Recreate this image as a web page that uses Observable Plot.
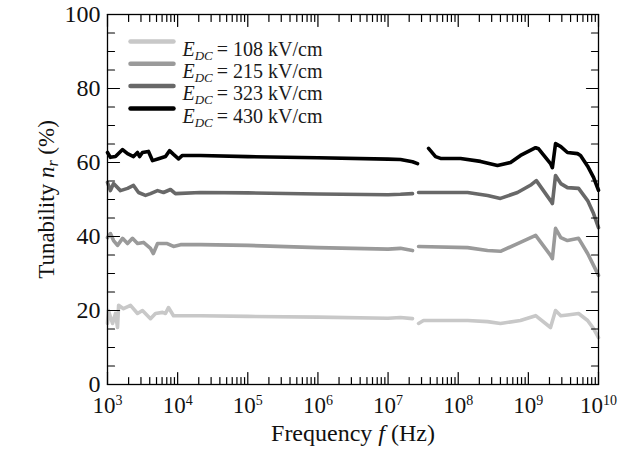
<!DOCTYPE html>
<html><head><meta charset="utf-8">
<script src="https://cdn.jsdelivr.net/npm/d3@7"></script>
<script src="https://cdn.jsdelivr.net/npm/@observablehq/plot@0.6"></script>
<style>
html,body{margin:0;padding:0;background:#fff;}
</style>
</head><body><div id="chart"></div>
<script>
// ---- data ----
const seriesNames = ["108", "215", "323", "430"];
const seriesColors = ["#c8c8c8", "#9a9a9a", "#686868", "#000000"];

const freq108 = [1.0e3, 1.03e3, 1.18e3, 1.30e3, 1.39e3, 1.44e3, 1.69e3, 2.13e3, 2.68e3, 3.15e3, 4.1e3, 4.83e3, 6.1e3, 6.71e3, 7.4e3, 8.73e3, 2.12e4, 1e5, 1e6, 1e7, 1.5e7, 2.23e7, 2.5e7, 2.72e7, 3.2e7, 1.36e8, 2.62e8, 4.0e8, 7.7e8, 1.27e9, 2.07e9, 2.44e9, 2.9e9, 3.61e9, 5.2e9, 7.0e9, 8.5e9, 1.0e10];
const tun108  = [16.5, 20.0, 16.5, 19.2, 15.4, 21.4, 20.5, 21.4, 19.2, 20.0, 17.8, 19.2, 19.5, 19.2, 20.8, 18.6, 18.6, 18.4, 18.2, 17.9, 18.1, 17.8, null, 16.5, 17.3, 17.3, 17.0, 16.5, 17.3, 18.6, 15.4, 20.0, 18.6, 18.8, 19.2, 17.3, 15.1, 12.7];

const freq215 = [1.0e3, 1.1e3, 1.22e3, 1.39e3, 1.64e3, 1.93e3, 2.27e3, 2.68e3, 3.26e3, 4.1e3, 4.5e3, 5.17e3, 7.1e3, 8.73e3, 1.1e4, 2.12e4, 1e5, 1e6, 1e7, 1.5e7, 2.23e7, 2.5e7, 2.72e7, 1.36e8, 2.62e8, 4.0e8, 7.7e8, 1.27e9, 2.07e9, 2.2e9, 2.44e9, 2.9e9, 3.61e9, 5.2e9, 7.0e9, 8.5e9, 1.0e10];
const tun215  = [39.7, 40.8, 38.9, 37.6, 39.5, 38.1, 39.5, 38.1, 38.4, 36.8, 35.4, 38.1, 38.1, 37.3, 37.8, 37.8, 37.6, 37.0, 36.6, 36.8, 36.2, null, 37.3, 37.0, 36.2, 36.0, 38.4, 40.3, 34.9, 34.0, 42.2, 39.7, 38.9, 39.5, 35.4, 32.2, 29.5];

const freq323 = [1.0e3, 1.1e3, 1.22e3, 1.53e3, 1.93e3, 2.35e3, 2.77e3, 3.48e3, 4.1e3, 5.17e3, 6.29e3, 7.9e3, 9.3e3, 2.12e4, 1e5, 1e6, 1e7, 1.5e7, 2.23e7, 2.5e7, 2.72e7, 1.36e8, 2.62e8, 4.0e8, 7.0e8, 1.1e9, 1.3e9, 2.07e9, 2.2e9, 2.44e9, 2.9e9, 3.61e9, 5.2e9, 7.0e9, 8.5e9, 1.0e10];
const tun323  = [54.6, 52.4, 54.3, 52.4, 53.0, 53.8, 51.9, 51.1, 51.6, 52.4, 51.9, 52.7, 51.6, 51.9, 51.8, 51.5, 51.3, 51.4, 51.6, null, 51.9, 51.9, 51.1, 50.3, 51.9, 54.0, 55.1, 49.7, 48.9, 56.5, 54.3, 53.2, 53.0, 49.7, 46.2, 42.4];

const freq430 = [1.0e3, 1.1e3, 1.3e3, 1.64e3, 1.93e3, 2.35e3, 2.68e3, 2.86e3, 3.15e3, 3.84e3, 4.39e3, 5.34e3, 6.71e3, 7.66e3, 8.73e3, 1.03e4, 1.17e4, 2.12e4, 1e5, 1e6, 1e7, 1.5e7, 2.23e7, 2.63e7, 3.2e7, 3.78e7, 4.75e7, 5.6e7, 1.08e8, 2.08e8, 3.63e8, 5.57e8, 7.73e8, 1.27e9, 1.4e9, 2.07e9, 2.2e9, 2.44e9, 2.9e9, 3.61e9, 5.02e9, 5.54e9, 7.0e9, 8.5e9, 1.0e10];
const tun430  = [62.7, 61.4, 61.6, 63.5, 62.4, 61.6, 62.7, 61.6, 62.7, 63.0, 60.5, 61.0, 61.6, 63.2, 62.2, 61.0, 61.9, 61.9, 61.6, 61.3, 60.9, 60.8, 60.2, 59.7, null, 63.8, 61.6, 61.1, 61.1, 60.3, 59.2, 60.0, 61.9, 64.0, 63.7, 59.7, 58.6, 65.1, 64.3, 62.7, 62.4, 61.9, 59.0, 56.0, 52.5];

const xTickExponents = [3, 4, 5, 6, 7, 8, 9, 10];
const xMinorMultipliers = [2, 3, 4, 5, 6, 7, 8, 9];
const yTickLabels = [0, 20, 40, 60, 80, 100];
const yMinorTicks = [5, 10, 15, 25, 30, 35, 45, 50, 55, 65, 70, 75, 85, 90, 95];

// ---- build ----
const seriesData = [[freq108, tun108], [freq215, tun215], [freq323, tun323], [freq430, tun430]];
const rows = [];
seriesData.forEach(([F, V], k) => F.forEach((f, i) => rows.push({f, v: V[i] == null ? NaN : V[i], s: seriesNames[k]})));

const xMajor = xTickExponents.map(e => 10 ** e);
const xMinor = [];
xTickExponents.slice(0, -1).forEach(e => xMinorMultipliers.forEach(m => xMinor.push(m * 10 ** e)));

const FONT = "Liberation Serif, Times New Roman, serif";
const tickShape = {draw(context, l) { context.moveTo(0, 0); context.lineTo(0, -l); }};
const tick = (data, ch, anchor, rot, len) => Plot.vector(data, {
  [ch]: d => d, frameAnchor: anchor, rotate: rot, length: len, anchor: "start",
  shape: tickShape, stroke: "black", strokeWidth: 1.2
});

const legendMarks = [];
seriesNames.forEach((name, i) => {
  const dy = 27 + i * 22.3;
  legendMarks.push(Plot.vector([name], {frameAnchor: "top-left", dx: 23, dy, rotate: 90, length: 43, anchor: "start",
    shape: tickShape, stroke: seriesColors[i], strokeWidth: 4.5}));
  legendMarks.push(Plot.text([name], {frameAnchor: "top-left", dx: 75, dy, text: d => `E_DC = ${d} kV/cm`,
    textAnchor: "start", fontSize: 20, fontFamily: FONT, fill: "#1a1a1a"}));
});

const plot = Plot.plot({
  width: 628, height: 460,
  marginLeft: 107, marginRight: 30, marginTop: 14, marginBottom: 76,
  style: {fontFamily: FONT, background: "#fff", color: "#000"},
  x: {type: "log", domain: [1e3, 1e10], axis: null},
  y: {domain: [0, 100], axis: null},
  color: {domain: seriesNames, range: seriesColors},
  marks: [
    Plot.line(rows, {x: "f", y: "v", z: "s", stroke: "s", strokeWidth: 3.6, strokeLinejoin: "round", strokeLinecap: "round"}),
    tick(xMajor, "x", "bottom", 0, 12),
    tick(xMinor, "x", "bottom", 0, 7),
    tick(xMajor, "x", "top", 180, 12),
    tick(xMinor, "x", "top", 180, 7),
    tick(yTickLabels, "y", "left", 90, 12),
    tick(yMinorTicks, "y", "left", 90, 7),
    tick(yTickLabels, "y", "right", 270, 12),
    tick(yMinorTicks, "y", "right", 270, 7),
    Plot.frame({stroke: "black", strokeWidth: 1.3}),
    Plot.text(yTickLabels, {y: d => d, frameAnchor: "left", dx: -7, textAnchor: "end", text: d => String(d), fontSize: 24, fontFamily: FONT, fill: "#111"}),
    Plot.text(xTickExponents, {x: d => 10 ** d, frameAnchor: "bottom", dy: 12, lineAnchor: "top", text: d => `10^${d}`, fontSize: 23, fontFamily: FONT, fill: "#111"}),
    Plot.text(["Frequency f (Hz)"], {frameAnchor: "bottom", dy: 56, lineAnchor: "bottom", textAnchor: "middle", text: d => d, fontSize: 24, fontFamily: FONT, fill: "#111"}),
    Plot.text(["Tunability n_r (%)"], {frameAnchor: "left", dx: -54, rotate: -90, lineAnchor: "bottom", textAnchor: "middle", text: d => d, fontSize: 23, fontFamily: FONT, fill: "#111"}),
    ...legendMarks
  ]
});
document.getElementById("chart").appendChild(plot);

// ---- rich text (italics, sub/superscripts) ----
const NS = "http://www.w3.org/2000/svg";
function rich(el, parts) {
  el.textContent = "";
  let prev = 0;
  for (const p of parts) {
    const ts = document.createElementNS(NS, "tspan");
    const shift = p.shift || 0;
    if (shift !== prev) ts.setAttribute("dy", String(shift - prev));
    if (p.size) ts.setAttribute("font-size", p.size);
    if (p.italic) ts.setAttribute("font-style", "italic");
    ts.textContent = p.t;
    el.appendChild(ts);
    prev = shift;
  }
}
plot.querySelectorAll("text").forEach(el => {
  const s = el.textContent;
  let m;
  if ((m = s.match(/^10\^(\d+)$/))) {
    rich(el, [{t: "10"}, {t: m[1], size: 14, shift: -8}]);
  } else if ((m = s.match(/^E_DC = (.*)$/))) {
    rich(el, [{t: "E", italic: true}, {t: "DC", italic: true, size: 13, shift: 4}, {t: "\u2009= " + m[1]}]);
  } else if (s === "Frequency f (Hz)") {
    rich(el, [{t: "Frequency "}, {t: "f", italic: true}, {t: " (Hz)"}]);
  } else if (s === "Tunability n_r (%)") {
    rich(el, [{t: "Tunability "}, {t: "n", italic: true}, {t: "r", italic: true, size: 16, shift: 4}, {t: " (%)"}]);
  }
});
</script>
</body></html>
